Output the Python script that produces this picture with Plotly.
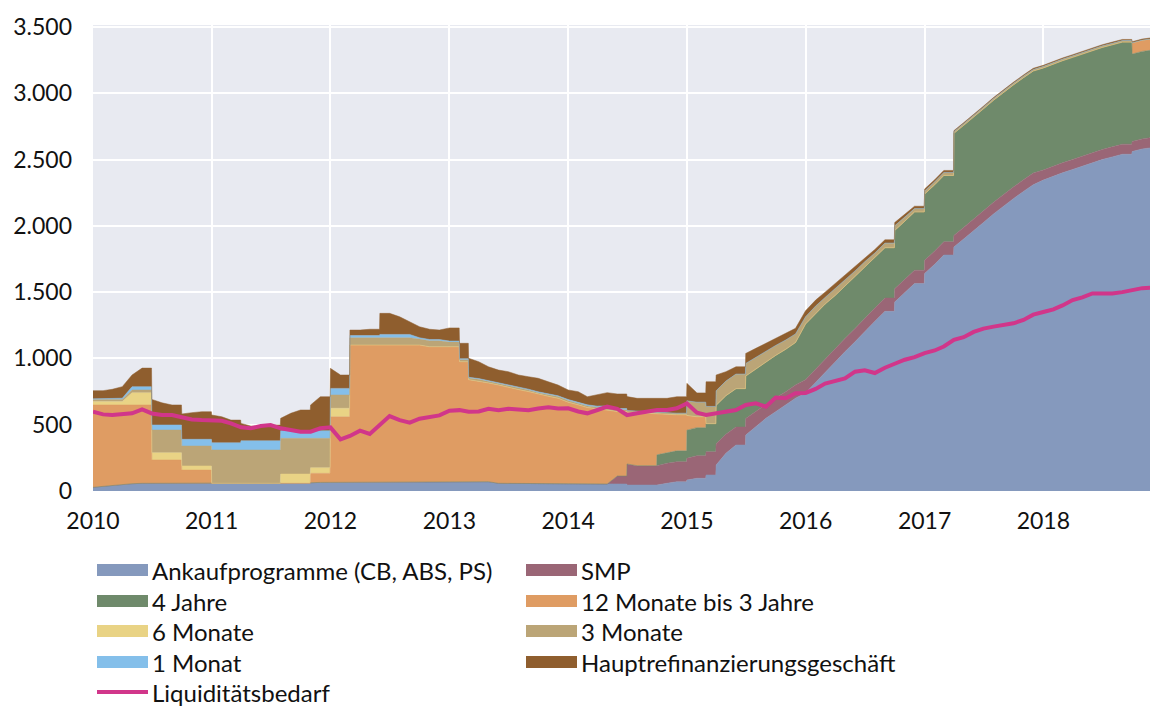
import pandas as pd
import plotly.graph_objects as go

# Monthly observation dates (start of month), Jan 2010 .. Dec 2018
months = pd.date_range("2010-01-01", "2018-12-01", freq="MS")
# months in which a value changes abruptly (operation settles / matures)
jump_months = ["2010-07", "2010-10", "2011-01", "2011-04", "2011-08", "2011-11",
               "2012-01", "2012-03", "2012-06", "2013-02", "2013-03", "2014-07",
               "2014-10", "2015-01", "2015-03", "2015-04", "2015-07", "2016-10",
               "2017-01", "2017-04", "2018-10"]

years = ["2010", "2011", "2012", "2013", "2014", "2015", "2016", "2017", "2018"]
y_ticks = [0, 500, 1000, 1500, 2000, 2500, 3000, 3500]

# Values in bn EUR, one per month (2010 .. 2018, 12 per row)
ankauf = [
    28, 35, 42, 50, 55, 58, 58, 58, 58, 58, 58, 58,
    58, 58, 58, 58, 58, 58, 58, 58, 58, 58, 62, 65,
    70, 70, 70, 70, 70, 70, 70, 70, 70, 70, 70, 70,
    70, 70, 70, 70, 70, 58, 58, 58, 58, 58, 58, 58,
    53, 53, 53, 53, 53, 53, 45, 45, 45, 45, 58, 70,
    83, 96, 121, 196, 284, 347, 422, 485, 548, 598, 649, 700,
    740, 820, 900, 975, 1050, 1125, 1205, 1280, 1355, 1425, 1495, 1565,
    1640, 1710, 1780, 1840, 1900, 1960, 2025, 2090, 2150, 2205, 2260, 2310,
    2345, 2375, 2400, 2425, 2450, 2475, 2500, 2520, 2540, 2560, 2580, 2590,
]
smp = [
    0, 0, 0, 0, 0, 0, 0, 0, 0, 0, 0, 0,
    0, 0, 0, 0, 0, 0, 0, 0, 0, 0, 0, 0,
    0, 0, 0, 0, 0, 0, 0, 0, 0, 0, 0, 0,
    0, 0, 0, 0, 0, 0, 0, 0, 0, 0, 0, 0,
    0, 0, 0, 0, 0, 60, 159, 146, 146, 146, 151, 151,
    164, 170, 175, 160, 145, 135, 125, 115, 110, 105, 100, 100,
    100, 100, 100, 100, 100, 100, 100, 100, 100, 100, 100, 100,
    100, 100, 100, 88, 88, 88, 88, 88, 88, 88, 88, 88,
    76, 76, 76, 76, 76, 76, 76, 76, 76, 76, 76, 76,
]
jahre4 = [
    0, 0, 0, 0, 0, 0, 0, 0, 0, 0, 0, 0,
    0, 0, 0, 0, 0, 0, 0, 0, 0, 0, 0, 0,
    0, 0, 0, 0, 0, 0, 0, 0, 0, 0, 0, 0,
    0, 0, 0, 0, 0, 0, 0, 0, 0, 0, 0, 0,
    0, 0, 0, 0, 0, 0, 0, 0, 0, 82, 82, 82,
    212, 212, 212, 290, 290, 290, 320, 320, 320, 320, 320, 320,
    420, 420, 410, 400, 395, 390, 385, 380, 380, 440, 440, 440,
    500, 500, 500, 770, 770, 770, 770, 770, 770, 770, 770, 770,
    770, 770, 770, 770, 770, 770, 770, 770, 770, 660, 660, 660,
]
monate12 = [
    621, 614, 607, 599, 594, 591, 176, 176, 176, 100, 100, 100,
    0, 0, 0, 0, 0, 0, 0, 0, 0, 0, 71, 68,
    490, 490, 1031, 1031, 1031, 1031, 1031, 1031, 1031, 1031, 1018, 1018,
    1018, 905, 770, 760, 745, 742, 722, 707, 692, 672, 657, 642,
    617, 597, 577, 567, 557, 487, 391, 399, 394, 307, 287, 272,
    111, 82, 0, 0, 0, 0, 0, 0, 0, 0, 0, 0,
    0, 0, 0, 0, 0, 0, 0, 0, 0, 0, 0, 0,
    0, 0, 0, 0, 0, 0, 0, 0, 0, 0, 0, 0,
    0, 0, 0, 0, 0, 0, 0, 0, 0, 85, 85, 85,
]
monate6 = [
    27, 27, 27, 27, 92, 92, 55, 55, 55, 31, 31, 31,
    0, 0, 0, 0, 0, 0, 0, 70, 70, 70, 43, 43,
    64, 64, 0, 0, 0, 0, 0, 0, 0, 0, 0, 0,
    0, 0, 0, 0, 0, 0, 0, 0, 0, 0, 0, 0,
    0, 0, 0, 0, 0, 0, 0, 0, 0, 0, 0, 0,
    0, 0, 0, 0, 0, 0, 0, 0, 0, 0, 0, 0,
    0, 0, 0, 0, 0, 0, 0, 0, 0, 0, 0, 0,
    0, 0, 0, 0, 0, 0, 0, 0, 0, 0, 0, 0,
    0, 0, 0, 0, 0, 0, 0, 0, 0, 0, 0, 0,
]
monate3 = [
    14, 14, 14, 14, 21, 21, 171, 171, 171, 150, 150, 150,
    251, 251, 251, 251, 251, 251, 251, 269, 269, 269, 221, 221,
    100, 100, 55, 55, 55, 55, 55, 55, 55, 45, 45, 45,
    35, 15, 12, 12, 12, 12, 12, 12, 12, 12, 12, 12,
    12, 12, 12, 12, 12, 12, 12, 12, 12, 12, 12, 12,
    110, 110, 130, 110, 110, 110, 95, 90, 80, 75, 70, 65,
    55, 55, 50, 50, 45, 45, 40, 35, 35, 35, 30, 25,
    23, 23, 23, 12, 12, 12, 12, 12, 12, 12, 12, 12,
    12, 12, 12, 12, 12, 12, 12, 12, 12, 0, 0, 0,
]
monat1 = [
    5, 5, 5, 10, 25, 25, 38, 38, 38, 51, 51, 51,
    55, 55, 55, 70, 70, 70, 70, 58, 58, 58, 58, 58,
    50, 50, 17, 17, 17, 25, 25, 25, 25, 10, 10, 10,
    8, 8, 6, 6, 6, 6, 6, 6, 6, 6, 6, 6,
    8, 8, 8, 8, 20, 10, 0, 0, 0, 0, 0, 0,
    0, 0, 0, 0, 0, 0, 0, 0, 0, 0, 0, 0,
    0, 0, 0, 0, 0, 0, 0, 0, 0, 0, 0, 0,
    0, 0, 0, 0, 0, 0, 0, 0, 0, 0, 0, 0,
    0, 0, 0, 0, 0, 0, 0, 0, 0, 0, 0, 0,
]
hrg = [
    62, 62, 72, 87, 88, 140, 193, 167, 151, 191, 201, 208,
    209, 196, 171, 131, 111, 106, 119, 93, 131, 156, 194, 256,
    151, 101, 41, 41, 47, 159, 159, 133, 96, 83, 77, 71,
    99, 116, 143, 127, 104, 94, 102, 92, 94, 102, 91, 81,
    72, 79, 61, 84, 100, 110, 105, 97, 102, 107, 109, 124,
    132, 70, 186, 119, 71, 55, 76, 66, 56, 53, 50, 42,
    45, 45, 40, 40, 35, 35, 30, 27, 25, 25, 20, 18,
    15, 15, 15, 8, 8, 8, 8, 8, 8, 8, 8, 8,
    8, 8, 8, 8, 8, 8, 8, 8, 8, 8, 8, 8,
]
liquiditaet = [
    598, 578, 573, 580, 586, 616, 585, 573, 573, 556, 540, 535,
    535, 530, 510, 480, 473, 490, 498, 473, 460, 447, 447, 473,
    480, 390, 415, 455, 430, 500, 565, 535, 515, 545, 560, 570,
    605, 610, 598, 600, 620, 610, 620, 612, 610, 622, 632, 622,
    624, 600, 586, 611, 636, 620, 573, 586, 598, 611, 611, 624,
    660, 590, 573, 586, 598, 611, 649, 661, 636, 705, 700, 737,
    740, 770, 810, 830, 850, 900, 910, 890, 930, 960, 990, 1010,
    1040, 1060, 1090, 1140, 1160, 1200, 1225, 1240, 1250, 1265, 1290, 1330,
    1350, 1370, 1400, 1440, 1460, 1490, 1490, 1490, 1500, 1515, 1530, 1535,
]

series = [
    ("Ankaufprogramme (CB, ABS, PS)", ankauf, "#8599BD"),
    ("SMP", smp, "#9A6676"),
    ("4 Jahre", jahre4, "#6F8A6B"),
    ("12 Monate bis 3 Jahre", monate12, "#DF9C63"),
    ("6 Monate", monate6, "#E9D385"),
    ("3 Monate", monate3, "#BBA577"),
    ("1 Monat", monat1, "#84BFEA"),
    ("Hauptrefinanzierungsgeschäft", hrg, "#8F5E2E"),
]
line_name = "Liquiditätsbedarf"
line_color = "#D1368A"

# Step handling: at a jump month the previous month's level holds until the day before
x_pts, src = [], []
for i, m in enumerate(months):
    if i > 0 and m.strftime("%Y-%m") in jump_months:
        x_pts.append(m - pd.Timedelta(days=1))
        src.append(i - 1)
    x_pts.append(m)
    src.append(i)


def on_grid(vals):
    return [vals[j] for j in src]


FONT = "Lato, 'Open Sans', sans-serif"
fig = go.Figure()
for name, vals, col in series:
    fig.add_trace(go.Scatter(
        x=x_pts, y=on_grid(vals), name=name, stackgroup="one", mode="lines",
        line=dict(width=0.5, color=col), fillcolor=col,
        showlegend=False,
    ))
fig.add_trace(go.Scatter(
    x=months, y=liquiditaet, name=line_name, mode="lines",
    line=dict(width=4, color=line_color), showlegend=False,
))

# manual legend (two columns) in pixel terms converted to paper coords
L, T, W, H = 93, 25, 1057, 466


def px(x):
    return (x - L) / W


def py(y):
    return (T + H - y) / H


shapes = []
annotations = []
rows = [570, 601, 631, 662, 692]
cols = [97, 526]
for i, (name, vals, col) in enumerate(series):
    r, c = divmod(i, 2)
    x0 = cols[c]
    yc = rows[r]
    shapes.append(dict(type="rect", xref="paper", yref="paper",
                       x0=px(x0), x1=px(x0 + 51), y0=py(yc + 6), y1=py(yc - 6),
                       fillcolor=col, line=dict(width=0)))
    annotations.append(dict(text=name, xref="paper", yref="paper",
                            x=px(x0 + 53), y=py(yc), xanchor="left", yanchor="middle",
                            showarrow=False, font=dict(size=24, color="#111", family=FONT)))
shapes.append(dict(type="line", xref="paper", yref="paper",
                   x0=px(97), x1=px(148), y0=py(rows[4]), y1=py(rows[4]),
                   line=dict(color=line_color, width=4)))
annotations.append(dict(text=line_name, xref="paper", yref="paper",
                        x=px(150), y=py(rows[4]), xanchor="left", yanchor="middle",
                        showarrow=False, font=dict(size=24, color="#111", family=FONT)))

fig.update_layout(
    width=1150, height=707,
    margin=dict(l=L, r=0, t=T, b=707 - T - H, autoexpand=False),
    paper_bgcolor="white", plot_bgcolor="#E8EAF1",
    separators=",.",
    font=dict(family=FONT, size=23, color="#111"),
    shapes=shapes, annotations=annotations,
    showlegend=False,
)
fig.update_xaxes(
    type="date", range=["2010-01-01", "2018-11-25"],
    tickvals=[f"{y}-01-01" for y in years], ticktext=years,
    showgrid=True, gridcolor="white", gridwidth=2,
    zeroline=False, showline=False, ticks="", ticklabelstandoff=14,
    tickfont=dict(size=23, family=FONT, color="#111"),
)
fig.update_yaxes(
    range=[0, 3515], tickvals=y_ticks, tickformat=",d",
    showgrid=True, gridcolor="white", gridwidth=2,
    zeroline=False, showline=False, ticks="", ticklabelstandoff=20,
    tickfont=dict(size=23, family=FONT, color="#111"),
)
fig.write_html(
    "out.html",
    config={"displayModeBar": False},
    post_script="document.body.style.margin='0';document.body.style.overflow='hidden';",
)
